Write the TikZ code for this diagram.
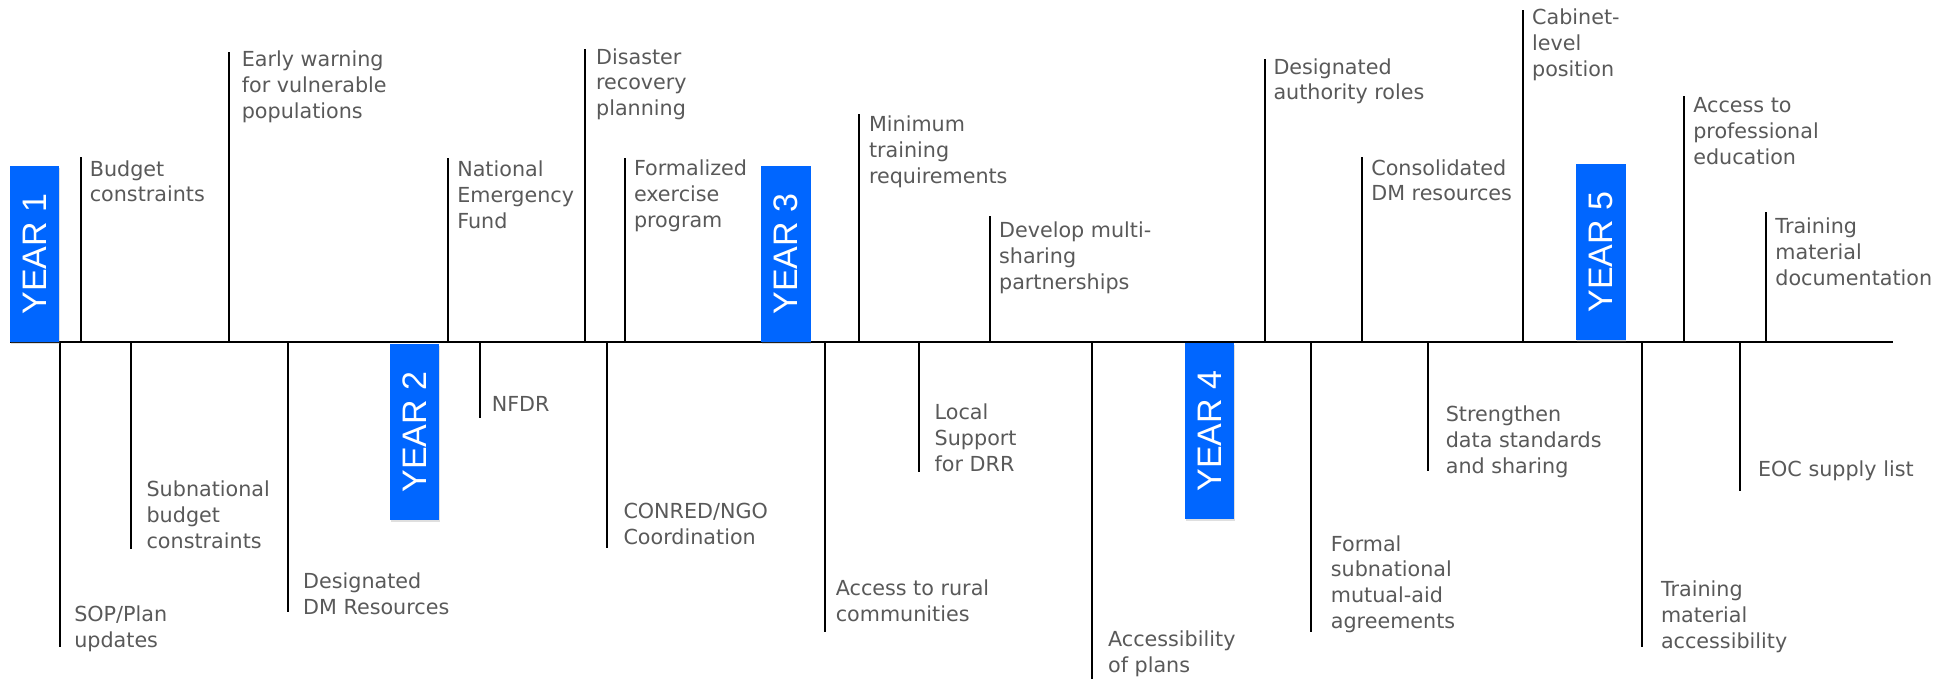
\documentclass[tikz,border=0pt]{standalone}
\usepackage{fontspec}
\newfontfamily\lblfont{DejaVu Sans}
\newfontfamily\yrfont{Liberation Sans}
\usetikzlibrary{shadows}
\definecolor{txtgray}{RGB}{89,89,89}
\definecolor{yrblue}{RGB}{0,102,255}
\begin{document}
\begin{tikzpicture}[x=0.5pt,y=-0.5pt,
  tickline/.style={line width=1pt,black},
  mainline/.style={line width=1pt,black},
  lbl/.style={anchor=north west,inner sep=0pt,outer sep=0pt,align=left,text=txtgray,
    font=\lblfont\fontsize{10.35pt}{12.95pt}\selectfont},
  yearbox/.style={fill=yrblue,text=white,inner sep=0pt,outer sep=0pt,
    minimum width=24.6pt,minimum height=88pt,
    font=\yrfont\fontsize{17pt}{20pt}\selectfont,
    drop shadow={shadow xshift=0.4pt,shadow yshift=-0.8pt,opacity=0.25}}
]
\useasboundingbox (0,0) rectangle (1955,679);

% main line
\coordinate (ls) at (10,342);
\coordinate (le) at (1893,342);
\draw[mainline] (ls) -- (le);

% ---- labels above the line ----
\node[lbl] (a1) at (89.8,160.3) {Budget\\constraints};
\node[lbl] (a2) at (241.8,51.0) {Early warning\\for vulnerable\\populations};
\node[lbl] (a3) at (457.3,161.0) {National\\Emergency\\Fund};
\node[lbl] (a4) at (596.1,48.3) {Disaster\\recovery\\planning};
\node[lbl] (a5) at (634.0,160.0) {Formalized\\exercise\\program};
\node[lbl] (a6) at (869.0,116.0) {Minimum\\training\\requirements};
\node[lbl] (a7) at (999.1,222.0) {Develop multi-\\sharing\\partnerships};
\node[lbl] (a8) at (1273.5,58.3) {Designated\\authority roles};
\node[lbl] (a9) at (1371.3,159.3) {Consolidated\\DM resources};
\node[lbl] (a10) at (1532.1,8.6) {Cabinet-\\level\\position};
\node[lbl] (a11) at (1693.3,97.6) {Access to\\professional\\education};
\node[lbl] (a12) at (1775.4,217.6) {Training\\material\\documentation};

\coordinate (ta1) at (81,157);     \coordinate (ma1) at (81,342);
\coordinate (ta2) at (229.4,52);   \coordinate (ma2) at (229.4,342);
\coordinate (ta3) at (448.2,158);  \coordinate (ma3) at (448.2,342);
\coordinate (ta4) at (585,49.3);   \coordinate (ma4) at (585,342);
\coordinate (ta5) at (625,157.7);  \coordinate (ma5) at (625,342);
\coordinate (ta6) at (859.2,114.3);\coordinate (ma6) at (859.2,342);
\coordinate (ta7) at (990,216);    \coordinate (ma7) at (990,342);
\coordinate (ta8) at (1264.5,59.3);\coordinate (ma8) at (1264.5,342);
\coordinate (ta9) at (1362.3,156.7);\coordinate (ma9) at (1362.3,342);
\coordinate (ta10) at (1523,10);   \coordinate (ma10) at (1523,342);
\coordinate (ta11) at (1684.3,96); \coordinate (ma11) at (1684.3,342);
\coordinate (ta12) at (1766.3,212.3);\coordinate (ma12) at (1766.3,342);
\foreach \i in {1,...,12} {\draw[tickline] (ma\i) -- (ta\i);}

% ---- labels below the line ----
\node[lbl] (b1) at (74.3,606.0) {SOP/Plan\\updates};
\node[lbl] (b2) at (146.6,481.0) {Subnational\\budget\\constraints};
\node[lbl] (b3) at (303.2,572.6) {Designated\\DM Resources};
\node[lbl] (b4) at (491.8,396.0) {NFDR};
\node[lbl] (b5) at (623.5,503.6) {CONRED/NGO\\Coordination};
\node[lbl] (b6) at (835.8,580.0) {Access to rural\\communities};
\node[lbl] (b7) at (934.7,403.6) {Local\\Support\\for DRR};
\node[lbl] (b8) at (1108.1,631.0) {Accessibility\\of plans};
\node[lbl] (b9) at (1330.9,535.3) {Formal\\subnational\\mutual-aid\\agreements};
\node[lbl] (b10) at (1445.8,406.0) {Strengthen\\data standards\\and sharing};
\node[lbl] (b11) at (1661.0,581.0) {Training\\material\\accessibility};
\node[lbl] (b12) at (1758.1,461.0) {EOC supply list};

\coordinate (tb1) at (59.8,647.3);  \coordinate (mb1) at (59.8,342);
\coordinate (tb2) at (130.9,549);   \coordinate (mb2) at (130.9,342);
\coordinate (tb3) at (287.9,611.7); \coordinate (mb3) at (287.9,342);
\coordinate (tb4) at (479.8,418.3); \coordinate (mb4) at (479.8,342);
\coordinate (tb5) at (607.3,547.7); \coordinate (mb5) at (607.3,342);
\coordinate (tb6) at (825.1,632.3); \coordinate (mb6) at (825.1,342);
\coordinate (tb7) at (919.4,471.7); \coordinate (mb7) at (919.4,342);
\coordinate (tb8) at (1091.9,679);  \coordinate (mb8) at (1091.9,342);
\coordinate (tb9) at (1311.4,631.7);\coordinate (mb9) at (1311.4,342);
\coordinate (tb10) at (1428,471);   \coordinate (mb10) at (1428,342);
\coordinate (tb11) at (1641.5,647.3);\coordinate (mb11) at (1641.5,342);
\coordinate (tb12) at (1739.8,490.7);\coordinate (mb12) at (1739.8,342);
\foreach \i in {1,...,12} {\draw[tickline] (mb\i) -- (tb\i);}

% ---- year boxes ----
\node[yearbox] (y1) at (34.7,254) {\rotatebox{90}{YEAR 1}};
\node[yearbox] (y2) at (414.8,432) {\rotatebox{90}{YEAR 2}};
\node[yearbox] (y3) at (786,254) {\rotatebox{90}{YEAR 3}};
\node[yearbox] (y4) at (1209.5,431) {\rotatebox{90}{YEAR 4}};
\node[yearbox] (y5) at (1601,252.2) {\rotatebox{90}{YEAR 5}};
\end{tikzpicture}
\end{document}
